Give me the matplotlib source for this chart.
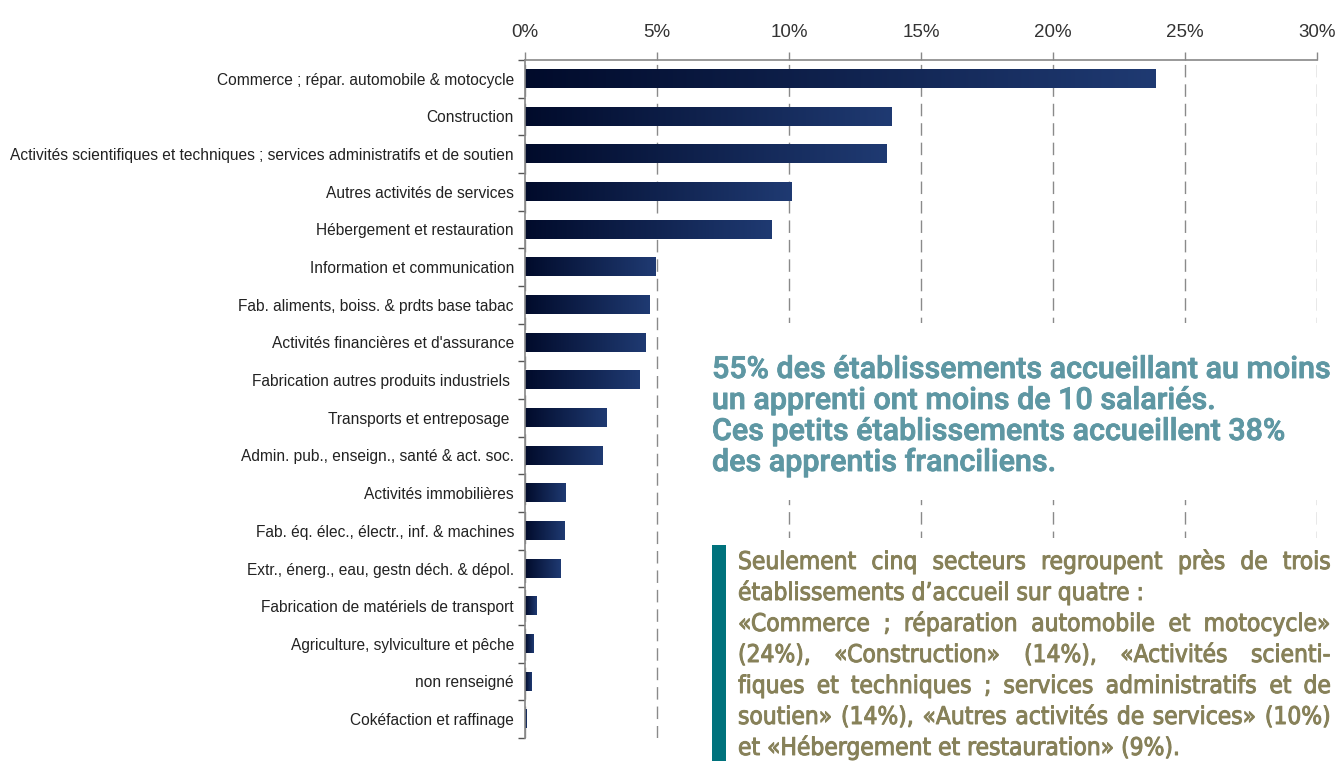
import matplotlib
matplotlib.use("Agg")
import matplotlib.pyplot as plt
import matplotlib.patheffects as pe
from matplotlib.colors import LinearSegmentedColormap
from matplotlib.patches import Rectangle
import numpy as np

# data (share of host establishments, %)
categories = [
    "Commerce ; répar. automobile & motocycle",
    "Construction",
    "Activités scientifiques et techniques ; services administratifs et de soutien",
    "Autres activités de services",
    "Hébergement et restauration",
    "Information et communication",
    "Fab. aliments, boiss. & prdts base tabac",
    "Activités financières et d'assurance",
    "Fabrication autres produits industriels ",
    "Transports et entreposage ",
    "Admin. pub., enseign., santé & act. soc.",
    "Activités immobilières",
    "Fab. éq. élec., électr., inf. & machines",
    "Extr., énerg., eau, gestn déch. & dépol.",
    "Fabrication de matériels de transport",
    "Agriculture, sylviculture et pêche",
    "non renseigné",
    "Cokéfaction et raffinage",
]
values = [23.9, 13.9, 13.7, 10.1, 9.35, 4.96, 4.7, 4.58, 4.32, 3.1, 2.95,
          1.55, 1.5, 1.36, 0.42, 0.34, 0.26, 0.06]

tick_values = [0, 5, 10, 15, 20, 25, 30]
tick_labels = ["0%", "5%", "10%", "15%", "20%", "25%", "30%"]

note_lines = [
    "55% des établissements accueillant au moins",
    "un apprenti ont moins de 10 salariés.",
    "Ces petits établissements accueillent 38%",
    "des apprentis franciliens.",
]
sector_lines = [
    "Seulement cinq secteurs regroupent près de trois",
    "établissements d\u2019accueil sur quatre :",
    "«Commerce ; réparation automobile et motocycle»",
    "(24%), «Construction» (14%),  «Activités scienti-",
    "fiques et techniques ; services administratifs et de",
    "soutien» (14%), «Autres activités de services» (10%)",
    "et «Hébergement et restauration» (9%).",
]
sector_justify = [True, False, True, True, True, True, False]

########################

W, H = 1341, 761
plt.rcParams['font.family'] = ['Liberation Sans', 'DejaVu Sans']

fig = plt.figure(figsize=(W / 100, H / 100), dpi=100)
ax = fig.add_axes([525 / W, 1 - 738 / H, (1317 - 525) / W, (738 - 60) / H])

n = len(categories)
y = np.arange(n)
bars = ax.barh(y, values, height=0.48, color='none', zorder=2)

# each bar gets its own dark-to-blue gradient
cmap = LinearSegmentedColormap.from_list('navy', ['#010b2b', '#1f3a72'])
grad = np.linspace(0, 1, 256).reshape(1, -1)
for b in bars:
    x0, y0, w, h = b.get_x(), b.get_y(), b.get_width(), b.get_height()
    ax.imshow(grad, extent=[x0, x0 + w, y0, y0 + h], cmap=cmap,
              aspect='auto', interpolation='bilinear', zorder=2)

ax.set_xlim(0, 30)
ax.set_ylim(n - 0.5, -0.5)

ax.xaxis.tick_top()
ax.set_xticks(tick_values)
ax.set_xticklabels(tick_labels, fontsize=13.5, color='#333333')
ax.tick_params(axis='x', which='major', length=6, width=1, color='#888888', pad=8)

ax.set_yticks(y)
ax.set_yticklabels(categories, fontsize=11.2, color='#222222')
ax.tick_params(axis='y', which='major', length=0, pad=8)
ax.set_yticks(np.arange(-0.5, n, 1), minor=True)
ax.tick_params(axis='y', which='minor', length=5, width=1, color='#555555')

for s in ['right', 'bottom']:
    ax.spines[s].set_visible(False)
ax.spines['top'].set_color('#888888')
ax.spines['left'].set_color('#888888')
ax.spines['top'].set_linewidth(1.2)
ax.spines['left'].set_linewidth(1.2)
ax.grid(axis='x', color='#8a8a8a', linestyle=(0, (9, 5)), linewidth=1)
ax.grid(axis='y', visible=False)
ax.set_axisbelow(True)

########################

# white panels over the grid for the two comments
def px_rect(x0, y0, x1, y1, color):
    r = Rectangle((x0 / W, 1 - y1 / H), (x1 - x0) / W, (y1 - y0) / H,
                  transform=fig.transFigure, facecolor=color, edgecolor='none', zorder=3)
    fig.patches.append(r)

px_rect(700, 323, W, 500, 'white')
px_rect(700, 538, W, H, 'white')
px_rect(712, 545, 726, H, '#00727c')

renderer = fig.canvas.get_renderer()

def text_width(s, **kw):
    t = fig.text(0, 0, s, **kw)
    wdt = t.get_window_extent(renderer).width
    t.remove()
    return wdt

def fit_size(lines, target, **kw):
    # font size so that the widest line is about target pixels
    base = kw.pop('fontsize')
    widest = max(text_width(l, fontsize=base, **kw) for l in lines)
    return base * target / widest

def draw_line(s, x_left, x_right, baseline, justify, **kw):
    if not justify:
        fig.text(x_left / W, 1 - baseline / H, s, ha='left', va='baseline', zorder=4, **kw)
        return
    words = s.split()
    arts = [fig.text(0, 1 - baseline / H, wd, ha='left', va='baseline', zorder=4, **kw)
            for wd in words]
    widths = [a.get_window_extent(renderer).width for a in arts]
    gap = (x_right - x_left - sum(widths)) / (len(words) - 1)
    x = x_left
    for a, wdt in zip(arts, widths):
        a.set_x(x / W)
        x += wdt + gap

teal = '#5e97a3'
note_style = dict(fontsize=20, color=teal, fontweight='medium',
                  family=['Roboto', 'DejaVu Sans'],
                  path_effects=[pe.withStroke(linewidth=0.6, foreground=teal)])
note_style['fontsize'] = fit_size(note_lines[:1], 618, **dict(note_style))
for i, line in enumerate(note_lines):
    draw_line(line, 712, 1333, 378 + 31 * i, False, **note_style)

olive = '#878159'
sector_style = dict(fontsize=18, color=olive,
                    family=['DejaVu Sans', 'Liberation Sans'],
                    fontstretch='condensed',
                    path_effects=[pe.withStroke(linewidth=0.7, foreground=olive)])
sector_style['fontsize'] = fit_size(sector_lines, 582, **dict(sector_style))
for i, line in enumerate(sector_lines):
    draw_line(line, 738, 1331, 569 + 31 * i, sector_justify[i], **sector_style)

fig.savefig("out.png", dpi=100, facecolor='white')
